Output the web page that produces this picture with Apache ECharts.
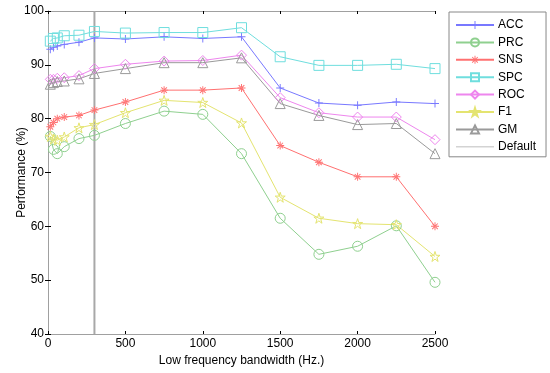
<!DOCTYPE html>
<html>
<head>
<meta charset="utf-8">
<script src="https://cdn.jsdelivr.net/npm/echarts@6/dist/echarts.min.js"></script>
<style>html,body{margin:0;padding:0;background:#fff}#c{width:550px;height:373px}</style>
</head>
<body>
<div id="c"></div>
<script>
var xValues = [15, 35, 60, 105, 200, 300, 500, 750, 1000, 1250, 1500, 1750, 2000, 2250, 2500];
var ACC = [92.9, 93.2, 93.5, 93.8, 94.2, 95.0, 94.8, 95.2, 94.9, 95.2, 85.7, 82.9, 82.5, 83.1, 82.8];
var PRC = [76.7, 74.3, 73.5, 74.8, 76.3, 76.9, 79.1, 81.4, 80.8, 73.5, 61.5, 54.8, 56.3, 60.1, 49.6];
var SNS = [78.5, 79.3, 80.0, 80.3, 80.6, 81.6, 83.1, 85.3, 85.3, 85.7, 75.0, 71.9, 69.2, 69.2, 60.0];
var SPC = [94.4, 94.9, 95.0, 95.4, 95.5, 96.2, 95.9, 96.0, 96.0, 96.9, 91.5, 89.9, 89.9, 90.1, 89.3];
var ROC = [87.3, 87.3, 87.5, 87.6, 88.0, 89.3, 90.1, 90.7, 90.8, 91.8, 83.9, 81.1, 80.3, 80.3, 76.1];
var F1 = [76.7, 76.2, 76.0, 76.6, 78.3, 78.9, 81.1, 83.4, 83.0, 79.2, 65.4, 61.5, 60.5, 60.3, 54.4];
var GM = [86.4, 86.7, 86.9, 87.0, 87.4, 88.4, 89.3, 90.4, 90.4, 91.3, 82.8, 80.6, 78.9, 79.1, 73.5];
var defaultX = 300;
var yRange = [40, 100];
var xTicks = [0, 2500, 500];
var yTicks = [40, 100, 10];

function pairs(ys) { return xValues.map(function (x, i) { return [x, ys[i]]; }); }

var PLUS = 'path://M-0.12,-1H0.12V1H-0.12Z M-1,-0.12H1V0.12H-1Z';
var AST = 'path://M-0.12,-1H0.12V1H-0.12Z M-1,-0.12H1V0.12H-1Z M-0.79,-0.62L0.62,0.79L0.79,0.62L-0.62,-0.79Z M0.62,-0.79L0.79,-0.62L-0.62,0.79L-0.79,0.62Z';
var STAR = 'path://M0,-1L0.2245,-0.309L0.951,-0.309L0.363,0.118L0.588,0.809L0,0.382L-0.588,0.809L-0.363,0.118L-0.951,-0.309L-0.2245,-0.309Z';
var HLINE = 'path://M0,4.6H38V5.4H0Z M0,0H0.01V0.01H0Z M38,10H37.99V9.99H38Z';

function mk(name, ys, color, symbol, filled, size) {
  return {
    name: name, type: 'line', data: pairs(ys),
    symbol: symbol, symbolSize: size, showSymbol: true,
    lineStyle: { color: color, width: 1 },
    itemStyle: filled ? { color: color } : { color: 'rgba(255,255,255,0)', borderColor: color, borderWidth: 1 },
    emphasis: { disabled: true }, animation: false, z: 3
  };
}

var font = 'Liberation Sans, Arial, Helvetica, sans-serif';
var tick = { show: true, inside: true, length: 3, lineStyle: { color: '#000', width: 1 } };
var axLine = { show: true, lineStyle: { color: '#a0a0a0', width: 1 } };
var plain = function (v) { return String(v); };

var option = {
  animation: false,
  backgroundColor: '#fff',
  textStyle: { fontFamily: font },
  grid: { left: 48, right: 115, top: 11, bottom: 39, containLabel: false, outerBoundsMode: 'none' },
  legend: {
    orient: 'vertical', left: 449, top: 12,
    itemWidth: 38, itemHeight: 10, itemGap: 5.4,
    padding: [7, 10, 4, 6],
    backgroundColor: '#fff', borderColor: '#888', borderWidth: 1,
    textStyle: { fontSize: 12, color: '#000', fontFamily: font, padding: [0, 0, 0, -1] },
    data: ['ACC', 'PRC', 'SNS', 'SPC', 'ROC', 'F1', 'GM', { name: 'Default', icon: HLINE }]
  },
  xAxis: [{
    type: 'value', min: xTicks[0], max: xTicks[1], interval: xTicks[2],
    axisLine: axLine, axisTick: tick, splitLine: { show: false },
    axisLabel: { fontSize: 12, color: '#000', margin: 4, fontFamily: font, formatter: plain },
    name: 'Low frequency bandwidth (Hz.)', nameLocation: 'middle', nameGap: 19,
    nameTextStyle: { fontSize: 12, color: '#000', fontFamily: font }
  }, {
    type: 'value', position: 'top', min: xTicks[0], max: xTicks[1], interval: xTicks[2],
    axisLine: axLine, axisTick: tick, splitLine: { show: false }, axisLabel: { show: false }
  }],
  yAxis: [{
    type: 'value', min: yRange[0], max: yRange[1], interval: yTicks[2],
    axisLine: axLine, axisTick: tick, splitLine: { show: false },
    axisLabel: { fontSize: 12, color: '#000', margin: 4, fontFamily: font, formatter: plain },
    name: 'Performance (%)', nameLocation: 'middle', nameGap: 20, nameMoveOverlap: false,
    nameTextStyle: { fontSize: 12, color: '#000', fontFamily: font }
  }, {
    type: 'value', position: 'right', min: yRange[0], max: yRange[1], interval: yTicks[2],
    axisLine: axLine, axisTick: tick, splitLine: { show: false }, axisLabel: { show: false }
  }],
  series: [
    mk('ACC', ACC, '#7878ff', PLUS, true, 8),
    mk('PRC', PRC, '#8fd08f', 'circle', false, 10),
    mk('SNS', SNS, '#ff7070', AST, true, 8),
    mk('SPC', SPC, '#6fdede', 'rect', false, 10),
    mk('ROC', ROC, '#ee86ee', 'diamond', false, 10),
    mk('F1', F1, '#e4e470', STAR, false, 10),
    mk('GM', GM, '#9a9a9a', 'triangle', false, 10),
    {
      name: 'Default', type: 'line', data: [[defaultX, yRange[0]], [defaultX, yRange[1]]],
      symbol: 'none', lineStyle: { color: '#a8a8a8', width: 2 }, itemStyle: { color: '#a8a8a8' },
      emphasis: { disabled: true }, animation: false, z: 2
    }
  ]
};
echarts.init(document.getElementById('c'), null, { renderer: 'canvas' }).setOption(option);
</script>
</body>
</html>
